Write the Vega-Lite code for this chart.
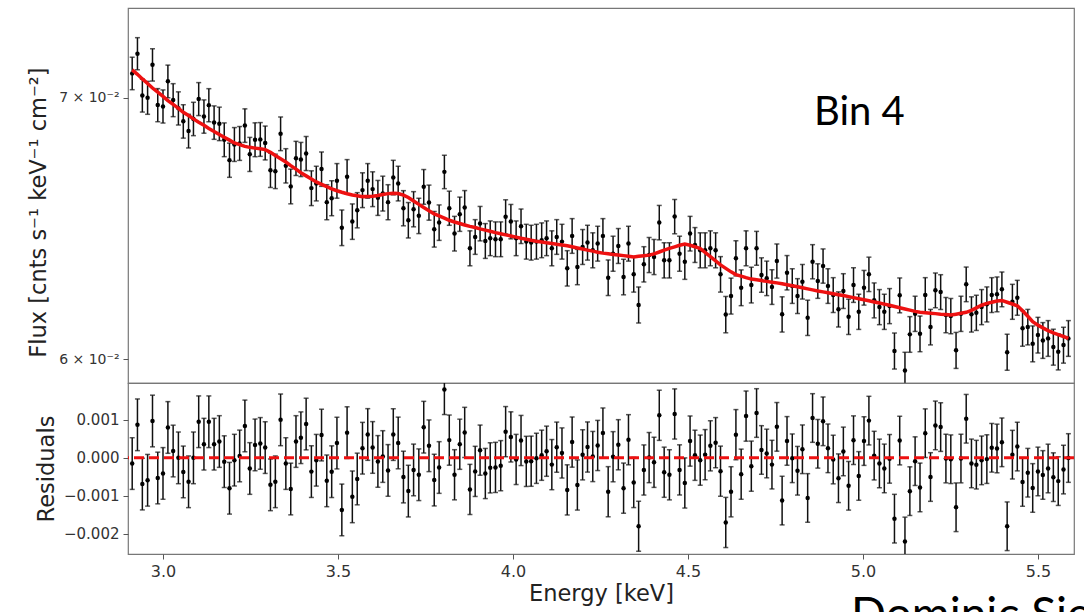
{
"$schema": "https://vega.github.io/schema/vega-lite/v6.json",
"background": "white",
"padding": {"left": 26, "top": 7, "right": 0, "bottom": 0},
"spacing": 0,
"bounds": "flush",
"config": {
  "view": {"stroke": "#777", "strokeWidth": 1.2},
  "axis": {"labelFont": "DejaVu Sans", "titleFont": "DejaVu Sans", "labelFontSize": 15, "titleFontSize": 22.5, "titleFontWeight": "normal", "labelColor": "#333", "titleColor": "#222", "tickColor": "#555", "domain": false, "grid": false, "tickSize": 5, "labelPadding": 4}
},
"data": {"values": [
{"e":2.912,"f":0.071009,"m":0.071159,"r":-0.00015,"s":0.00068},
{"e":2.927,"f":0.07184,"m":0.07097,"r":0.00087,"s":0.00068},
{"e":2.941,"f":0.070088,"m":0.070778,"r":-0.00069,"s":0.00068},
{"e":2.956,"f":0.069996,"m":0.070586,"r":-0.00059,"s":0.00068},
{"e":2.970,"f":0.071368,"m":0.070398,"r":0.00097,"s":0.00068},
{"e":2.985,"f":0.069694,"m":0.070224,"r":-0.00053,"s":0.00068},
{"e":3.000,"f":0.06964,"m":0.07005,"r":-0.00041,"s":0.00068},
{"e":3.014,"f":0.070676,"m":0.069876,"r":0.0008,"s":0.00068},
{"e":3.029,"f":0.0699,"m":0.06972,"r":0.00018,"s":0.00068},
{"e":3.044,"f":0.06956,"m":0.06956,"r":0,"s":0.00068},
{"e":3.058,"f":0.069029,"m":0.069399,"r":-0.00037,"s":0.00068},
{"e":3.073,"f":0.068634,"m":0.069264,"r":-0.00063,"s":0.00068},
{"e":3.087,"f":0.069129,"m":0.069129,"r":0,"s":0.00068},
{"e":3.102,"f":0.069944,"m":0.068994,"r":0.00095,"s":0.00068},
{"e":3.117,"f":0.069228,"m":0.068868,"r":0.00036,"s":0.00068},
{"e":3.131,"f":0.069692,"m":0.068742,"r":0.00095,"s":0.00068},
{"e":3.146,"f":0.068981,"m":0.068621,"r":0.00036,"s":0.00068},
{"e":3.161,"f":0.068929,"m":0.068499,"r":0.00043,"s":0.00068},
{"e":3.175,"f":0.068286,"m":0.068386,"r":-0.0001,"s":0.00068},
{"e":3.190,"f":0.067468,"m":0.068268,"r":-0.0008,"s":0.00068},
{"e":3.204,"f":0.068096,"m":0.068156,"r":-0.00006,"s":0.00068},
{"e":3.219,"f":0.068138,"m":0.068088,"r":0.00005,"s":0.00068},
{"e":3.234,"f":0.068859,"m":0.068019,"r":0.00084,"s":0.00068},
{"e":3.248,"f":0.067699,"m":0.067979,"r":-0.00028,"s":0.00068},
{"e":3.263,"f":0.068287,"m":0.067947,"r":0.00034,"s":0.00068},
{"e":3.278,"f":0.068299,"m":0.067919,"r":0.00038,"s":0.00068},
{"e":3.292,"f":0.068157,"m":0.067887,"r":0.00027,"s":0.00068},
{"e":3.307,"f":0.067069,"m":0.067779,"r":-0.00071,"s":0.00068},
{"e":3.321,"f":0.067025,"m":0.067655,"r":-0.00063,"s":0.00068},
{"e":3.336,"f":0.068527,"m":0.067527,"r":0.001,"s":0.00068},
{"e":3.351,"f":0.067245,"m":0.067395,"r":-0.00015,"s":0.00068},
{"e":3.365,"f":0.066432,"m":0.067252,"r":-0.00082,"s":0.00068},
{"e":3.380,"f":0.06754,"m":0.06711,"r":0.00043,"s":0.00068},
{"e":3.394,"f":0.067497,"m":0.066967,"r":0.00053,"s":0.00068},
{"e":3.409,"f":0.067735,"m":0.066845,"r":0.00089,"s":0.00068},
{"e":3.424,"f":0.066364,"m":0.066726,"r":-0.000362,"s":0.00068},
{"e":3.438,"f":0.066545,"m":0.066608,"r":-0.000063,"s":0.00068},
{"e":3.453,"f":0.067113,"m":0.066513,"r":0.0006,"s":0.00068},
{"e":3.468,"f":0.065818,"m":0.066423,"r":-0.000605,"s":0.00068},
{"e":3.482,"f":0.065973,"m":0.066337,"r":-0.000364,"s":0.00068},
{"e":3.497,"f":0.066651,"m":0.066262,"r":0.000389,"s":0.00068},
{"e":3.511,"f":0.064833,"m":0.066203,"r":-0.00137,"s":0.00068},
{"e":3.526,"f":0.066809,"m":0.066145,"r":0.000664,"s":0.00068},
{"e":3.541,"f":0.065068,"m":0.066094,"r":-0.001026,"s":0.00068},
{"e":3.555,"f":0.065507,"m":0.066063,"r":-0.000556,"s":0.00068},
{"e":3.570,"f":0.066286,"m":0.066032,"r":0.000254,"s":0.00068},
{"e":3.585,"f":0.066651,"m":0.066036,"r":0.000615,"s":0.00068},
{"e":3.599,"f":0.066325,"m":0.066051,"r":0.000274,"s":0.00068},
{"e":3.614,"f":0.065985,"m":0.066079,"r":-0.000094,"s":0.00068},
{"e":3.628,"f":0.066153,"m":0.066118,"r":0.000035,"s":0.00068},
{"e":3.643,"f":0.065818,"m":0.066149,"r":-0.000331,"s":0.00068},
{"e":3.658,"f":0.066781,"m":0.066168,"r":0.000613,"s":0.00068},
{"e":3.672,"f":0.066545,"m":0.066153,"r":0.000392,"s":0.00068},
{"e":3.687,"f":0.065585,"m":0.06609,"r":-0.000505,"s":0.00068},
{"e":3.701,"f":0.065122,"m":0.065997,"r":-0.000875,"s":0.00068},
{"e":3.716,"f":0.065546,"m":0.065864,"r":-0.000318,"s":0.00068},
{"e":3.731,"f":0.065288,"m":0.065732,"r":-0.000444,"s":0.00068},
{"e":3.745,"f":0.066415,"m":0.065608,"r":0.000807,"s":0.00068},
{"e":3.760,"f":0.065802,"m":0.065484,"r":0.000318,"s":0.00068},
{"e":3.775,"f":0.064776,"m":0.065361,"r":-0.000585,"s":0.00068},
{"e":3.789,"f":0.06503,"m":0.065284,"r":-0.000254,"s":0.00068},
{"e":3.804,"f":0.067003,"m":0.065203,"r":0.0018,"s":0.00066},
{"e":3.818,"f":0.065585,"m":0.065118,"r":0.000467,"s":0.00066},
{"e":3.833,"f":0.064608,"m":0.065053,"r":-0.000445,"s":0.00066},
{"e":3.848,"f":0.065353,"m":0.064995,"r":0.000358,"s":0.00066},
{"e":3.862,"f":0.065608,"m":0.064938,"r":0.00067,"s":0.00066},
{"e":3.877,"f":0.064053,"m":0.064884,"r":-0.000831,"s":0.00066},
{"e":3.892,"f":0.064482,"m":0.064838,"r":-0.000356,"s":0.00066},
{"e":3.906,"f":0.064991,"m":0.064788,"r":0.000203,"s":0.00066},
{"e":3.921,"f":0.06433,"m":0.064742,"r":-0.000412,"s":0.00066},
{"e":3.935,"f":0.064433,"m":0.064696,"r":-0.000263,"s":0.00066},
{"e":3.950,"f":0.064395,"m":0.064646,"r":-0.000251,"s":0.00066},
{"e":3.965,"f":0.064395,"m":0.064601,"r":-0.000206,"s":0.00066},
{"e":3.979,"f":0.065249,"m":0.064559,"r":0.00069,"s":0.00066},
{"e":3.994,"f":0.065068,"m":0.064517,"r":0.000551,"s":0.00066},
{"e":4.009,"f":0.064433,"m":0.064475,"r":-0.000042,"s":0.00066},
{"e":4.023,"f":0.064891,"m":0.064434,"r":0.000457,"s":0.00066},
{"e":4.038,"f":0.064303,"m":0.064396,"r":-0.000093,"s":0.00066},
{"e":4.052,"f":0.064266,"m":0.064354,"r":-0.000088,"s":0.00066},
{"e":4.067,"f":0.064303,"m":0.064315,"r":-0.000012,"s":0.00066},
{"e":4.082,"f":0.064357,"m":0.064288,"r":0.000069,"s":0.00066},
{"e":4.096,"f":0.064433,"m":0.064258,"r":0.000175,"s":0.00066},
{"e":4.111,"f":0.064053,"m":0.064231,"r":-0.000178,"s":0.00066},
{"e":4.125,"f":0.064482,"m":0.064201,"r":0.000281,"s":0.00066},
{"e":4.140,"f":0.064303,"m":0.064174,"r":0.000129,"s":0.00066},
{"e":4.155,"f":0.063301,"m":0.064144,"r":-0.000843,"s":0.00066},
{"e":4.169,"f":0.064521,"m":0.064106,"r":0.000415,"s":0.00066},
{"e":4.184,"f":0.06335,"m":0.064064,"r":-0.000714,"s":0.00066},
{"e":4.199,"f":0.064103,"m":0.064023,"r":0.00008,"s":0.00066},
{"e":4.213,"f":0.064266,"m":0.063981,"r":0.000285,"s":0.00066},
{"e":4.228,"f":0.063978,"m":0.063943,"r":0.000035,"s":0.00066},
{"e":4.242,"f":0.064228,"m":0.063902,"r":0.000326,"s":0.00066},
{"e":4.257,"f":0.064521,"m":0.063868,"r":0.000653,"s":0.00066},
{"e":4.272,"f":0.062951,"m":0.063842,"r":-0.000891,"s":0.00066},
{"e":4.286,"f":0.063849,"m":0.063819,"r":0.00003,"s":0.00066},
{"e":4.301,"f":0.064141,"m":0.063796,"r":0.000345,"s":0.00066},
{"e":4.316,"f":0.062977,"m":0.063774,"r":-0.000797,"s":0.00066},
{"e":4.330,"f":0.064228,"m":0.063751,"r":0.000477,"s":0.00066},
{"e":4.345,"f":0.063077,"m":0.063725,"r":-0.000648,"s":0.00066},
{"e":4.359,"f":0.061948,"m":0.063748,"r":-0.0018,"s":0.00066},
{"e":4.374,"f":0.063451,"m":0.06377,"r":-0.000319,"s":0.00066},
{"e":4.389,"f":0.0638,"m":0.063793,"r":0.000007,"s":0.00066},
{"e":4.403,"f":0.063725,"m":0.063842,"r":-0.000117,"s":0.00066},
{"e":4.418,"f":0.06503,"m":0.06391,"r":0.00112,"s":0.00066},
{"e":4.432,"f":0.0636,"m":0.063978,"r":-0.000378,"s":0.00066},
{"e":4.447,"f":0.0636,"m":0.064046,"r":-0.000446,"s":0.00066},
{"e":4.462,"f":0.065261,"m":0.064106,"r":0.001155,"s":0.00066},
{"e":4.476,"f":0.063849,"m":0.064166,"r":-0.000317,"s":0.00066},
{"e":4.491,"f":0.063548,"m":0.064209,"r":-0.000661,"s":0.00066},
{"e":4.506,"f":0.064608,"m":0.064166,"r":0.000442,"s":0.00066},
{"e":4.520,"f":0.064178,"m":0.06411,"r":0.000068,"s":0.00066},
{"e":4.535,"f":0.063978,"m":0.064038,"r":-0.00006,"s":0.00066},
{"e":4.549,"f":0.063978,"m":0.063894,"r":0.000084,"s":0.00066},
{"e":4.564,"f":0.064053,"m":0.063736,"r":0.000317,"s":0.00066},
{"e":4.579,"f":0.063978,"m":0.063578,"r":0.0004,"s":0.00066},
{"e":4.593,"f":0.063077,"m":0.063428,"r":-0.000351,"s":0.00066},
{"e":4.608,"f":0.061597,"m":0.063297,"r":-0.0017,"s":0.00066},
{"e":4.623,"f":0.062274,"m":0.063167,"r":-0.000893,"s":0.00066},
{"e":4.637,"f":0.063676,"m":0.063066,"r":0.00061,"s":0.00066},
{"e":4.652,"f":0.06258,"m":0.06301,"r":-0.00043,"s":0.00066},
{"e":4.666,"f":0.064053,"m":0.062954,"r":0.001099,"s":0.00066},
{"e":4.681,"f":0.06268,"m":0.062899,"r":-0.000219,"s":0.00066},
{"e":4.696,"f":0.064053,"m":0.062873,"r":0.00118,"s":0.00064},
{"e":4.710,"f":0.063051,"m":0.062843,"r":0.000208,"s":0.00064},
{"e":4.725,"f":0.062928,"m":0.062813,"r":0.000115,"s":0.00064},
{"e":4.740,"f":0.062606,"m":0.062784,"r":-0.000178,"s":0.00064},
{"e":4.754,"f":0.063574,"m":0.062758,"r":0.000816,"s":0.00064},
{"e":4.769,"f":0.061604,"m":0.062728,"r":-0.001124,"s":0.00064},
{"e":4.783,"f":0.063137,"m":0.062691,"r":0.000446,"s":0.00064},
{"e":4.798,"f":0.062643,"m":0.062654,"r":-0.000011,"s":0.00064},
{"e":4.813,"f":0.062274,"m":0.062613,"r":-0.000339,"s":0.00064},
{"e":4.827,"f":0.062802,"m":0.062576,"r":0.000226,"s":0.00064},
{"e":4.842,"f":0.061481,"m":0.062536,"r":-0.001055,"s":0.00064},
{"e":4.856,"f":0.063548,"m":0.062499,"r":0.001049,"s":0.00064},
{"e":4.871,"f":0.062828,"m":0.062458,"r":0.00037,"s":0.00064},
{"e":4.886,"f":0.063387,"m":0.062425,"r":0.000962,"s":0.00064},
{"e":4.900,"f":0.062643,"m":0.062392,"r":0.000251,"s":0.00064},
{"e":4.915,"f":0.062311,"m":0.062355,"r":-0.000044,"s":0.00064},
{"e":4.930,"f":0.061786,"m":0.062322,"r":-0.000536,"s":0.00064},
{"e":4.944,"f":0.062458,"m":0.062289,"r":0.000169,"s":0.00064},
{"e":4.959,"f":0.061517,"m":0.062252,"r":-0.000735,"s":0.00064},
{"e":4.973,"f":0.06268,"m":0.062215,"r":0.000465,"s":0.00064},
{"e":4.988,"f":0.061699,"m":0.062175,"r":-0.000476,"s":0.00064},
{"e":5.003,"f":0.06258,"m":0.062138,"r":0.000442,"s":0.00064},
{"e":5.017,"f":0.063077,"m":0.062097,"r":0.00098,"s":0.00064},
{"e":5.032,"f":0.062116,"m":0.062057,"r":0.000059,"s":0.00064},
{"e":5.047,"f":0.06187,"m":0.062017,"r":-0.000147,"s":0.00064},
{"e":5.061,"f":0.061699,"m":0.061977,"r":-0.000278,"s":0.00064},
{"e":5.076,"f":0.061907,"m":0.061933,"r":-0.000026,"s":0.00064},
{"e":5.090,"f":0.060289,"m":0.061889,"r":-0.0016,"s":0.00064},
{"e":5.105,"f":0.0623,"m":0.061845,"r":0.000455,"s":0.00064},
{"e":5.120,"f":0.059601,"m":0.061801,"r":-0.0022,"s":0.00064},
{"e":5.134,"f":0.060881,"m":0.061757,"r":-0.000876,"s":0.00064},
{"e":5.149,"f":0.061626,"m":0.061713,"r":-0.000087,"s":0.00064},
{"e":5.163,"f":0.060902,"m":0.06168,"r":-0.000778,"s":0.00064},
{"e":5.178,"f":0.062311,"m":0.061662,"r":0.000649,"s":0.00064},
{"e":5.193,"f":0.061144,"m":0.061648,"r":-0.000504,"s":0.00064},
{"e":5.207,"f":0.062484,"m":0.06163,"r":0.000854,"s":0.00064},
{"e":5.222,"f":0.062421,"m":0.061611,"r":0.00081,"s":0.00064},
{"e":5.237,"f":0.061579,"m":0.061597,"r":-0.000018,"s":0.00064},
{"e":5.251,"f":0.061543,"m":0.061579,"r":-0.000036,"s":0.00064},
{"e":5.266,"f":0.060311,"m":0.061611,"r":-0.0013,"s":0.00064},
{"e":5.280,"f":0.061626,"m":0.061644,"r":-0.000018,"s":0.00064},
{"e":5.295,"f":0.062706,"m":0.061677,"r":0.001029,"s":0.00064},
{"e":5.310,"f":0.061604,"m":0.06175,"r":-0.000146,"s":0.00064},
{"e":5.324,"f":0.061662,"m":0.061841,"r":-0.000179,"s":0.00064},
{"e":5.339,"f":0.06187,"m":0.061936,"r":-0.000066,"s":0.00064},
{"e":5.354,"f":0.061969,"m":0.062002,"r":-0.000033,"s":0.00064},
{"e":5.368,"f":0.062311,"m":0.062046,"r":0.000265,"s":0.00064},
{"e":5.383,"f":0.062337,"m":0.06209,"r":0.000247,"s":0.00064},
{"e":5.397,"f":0.062521,"m":0.062112,"r":0.000409,"s":0.00064},
{"e":5.412,"f":0.060246,"m":0.062046,"r":-0.0018,"s":0.00064},
{"e":5.427,"f":0.062064,"m":0.06198,"r":0.000084,"s":0.00064},
{"e":5.441,"f":0.062211,"m":0.061914,"r":0.000297,"s":0.00064},
{"e":5.456,"f":0.061097,"m":0.061731,"r":-0.000634,"s":0.00064},
{"e":5.471,"f":0.061144,"m":0.061535,"r":-0.000391,"s":0.00064},
{"e":5.485,"f":0.060544,"m":0.061336,"r":-0.000792,"s":0.00064},
{"e":5.500,"f":0.060855,"m":0.061213,"r":-0.000358,"s":0.00064},
{"e":5.514,"f":0.060665,"m":0.061115,"r":-0.00045,"s":0.00064},
{"e":5.529,"f":0.060737,"m":0.061017,"r":-0.00028,"s":0.00064},
{"e":5.544,"f":0.060426,"m":0.060934,"r":-0.000508,"s":0.00064},
{"e":5.558,"f":0.060258,"m":0.06087,"r":-0.000612,"s":0.00064},
{"e":5.573,"f":0.060497,"m":0.060805,"r":-0.000308,"s":0.00064},
{"e":5.587,"f":0.060737,"m":0.060741,"r":-0.000004,"s":0.00064}
]},
"vconcat": [
{
  "width": 946, "height": 375,
  "layer": [
    {"mark": {"type": "errorbar", "ticks": true, "size": 5, "color": "#111", "thickness": 1.5, "clip": true},
     "encoding": {
       "x": {"field": "e", "type": "quantitative", "scale": {"domain": [2.9, 5.603], "nice": false, "zero": false}, "axis": null},
       "y": {"field": "f", "type": "quantitative", "title": "Flux [cnts s⁻¹ keV⁻¹ cm⁻²]",
             "scale": {"type": "log", "domain": [0.05916, 0.0738], "nice": false},
             "axis": {"values": [0.06, 0.07], "labelExpr": "datum.value < 0.065 ? '6 × 10⁻²' : '7 × 10⁻²'", "labelFontSize": 14, "titleX": -83, "titleY": 204, "titleBaseline": "alphabetic"}},
       "yError": {"field": "s"}
     }},
    {"mark": {"type": "point", "filled": true, "size": 20, "color": "#000", "opacity": 1, "clip": true},
     "encoding": {"x": {"field": "e", "type": "quantitative"}, "y": {"field": "f", "type": "quantitative", "title": "Flux [cnts s⁻¹ keV⁻¹ cm⁻²]"}}},
    {"mark": {"type": "line", "color": "#ee1111", "strokeWidth": 3.5, "clip": true},
     "encoding": {"x": {"field": "e", "type": "quantitative"}, "y": {"field": "m", "type": "quantitative", "title": "Flux [cnts s⁻¹ keV⁻¹ cm⁻²]"}}},
    {"data": {"values": [{"label": "Bin 4"}]},
     "mark": {"type": "text", "font": "Lato", "fontSize": 40, "align": "left", "baseline": "alphabetic", "color": "#000"},
     "encoding": {"text": {"field": "label"}, "x": {"datum": 4.86}, "y": {"datum": 0.068893}}}
  ]
},
{
  "width": 946, "height": 171,
  "layer": [
    {"mark": {"type": "errorbar", "ticks": true, "size": 5, "color": "#111", "thickness": 1.5, "clip": true},
     "encoding": {
       "x": {"field": "e", "type": "quantitative", "scale": {"domain": [2.9, 5.603], "nice": false, "zero": false},
             "title": "Energy [keV]",
             "axis": {"values": [3, 3.5, 4, 4.5, 5, 5.5], "format": ".1f", "labelFontSize": 16, "titleY": 46, "titleBaseline": "alphabetic"}},
       "y": {"field": "r", "type": "quantitative", "title": "Residuals",
             "scale": {"domain": [-0.00253, 0.00197], "nice": false, "zero": false},
             "axis": {"values": [-0.002, -0.001, 0, 0.001], "format": ".3f", "titleX": -75, "titleBaseline": "alphabetic"}},
       "yError": {"field": "s"}
     }},
    {"mark": {"type": "point", "filled": true, "size": 20, "color": "#000", "opacity": 1, "clip": true},
     "encoding": {"x": {"field": "e", "type": "quantitative", "title": "Energy [keV]"}, "y": {"field": "r", "type": "quantitative", "title": "Residuals"}}},
    {"data": {"values": [{"zero": 0}]},
     "mark": {"type": "rule", "color": "#ee1111", "strokeWidth": 3, "strokeDash": [10, 5]},
     "encoding": {"y": {"field": "zero", "type": "quantitative", "title": "Residuals"}}},
    {"data": {"values": [{"label": "Dominic Sie"}]},
     "mark": {"type": "text", "font": "Lato", "fontSize": 46, "align": "left", "baseline": "alphabetic", "color": "#000"},
     "encoding": {"text": {"field": "label"}, "x": {"datum": 4.966}, "y": {"datum": -0.00453}}}
  ]
}
]
}
